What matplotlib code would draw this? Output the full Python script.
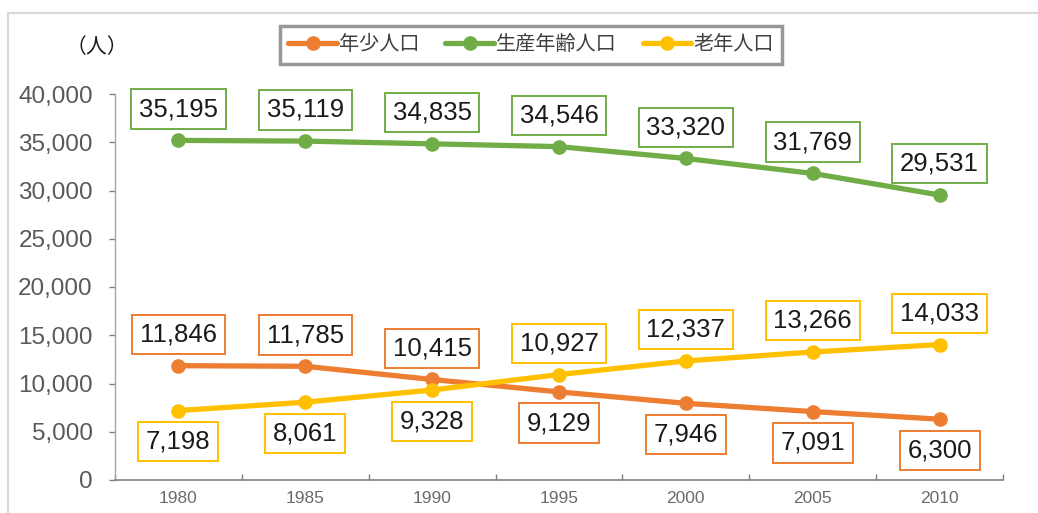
import matplotlib
matplotlib.use("Agg")
import matplotlib.pyplot as plt
from matplotlib.patches import Rectangle

years = ["1980", "1985", "1990", "1995", "2000", "2005", "2010"]
youth = [11846, 11785, 10415, 9129, 7946, 7091, 6300]
working = [35195, 35119, 34835, 34546, 33320, 31769, 29531]
elderly = [7198, 8061, 9328, 10927, 12337, 13266, 14033]
series_names = ["年少人口", "生産年齢人口", "老年人口"]
yticks = [0, 5000, 10000, 15000, 20000, 25000, 30000, 35000, 40000]
unit_label = "（人）"

colors = ["#ED7D31", "#70AD47", "#FFC000"]
# label placement: +1 above, -1 below
youth_pos = [1, 1, 1, -1, -1, -1, -1]
working_pos = [1] * 7
elderly_pos = [-1, -1, -1, 1, 1, 1, 1]

W, H = 1038, 513
fig = plt.figure(figsize=(W / 100, H / 100), dpi=100)
fig.patch.set_facecolor("white")

# outer chart frame
fig.patches.append(Rectangle((8 / W, -0.1), 1.2, (H - 13) / H + 0.1, transform=fig.transFigure,
                             fill=False, edgecolor="#D9D9D9", linewidth=1.5))

ax = fig.add_axes([115 / W, (H - 480) / H, 888 / W, 386 / H])
x = list(range(len(years)))

cjk = ["Noto Sans CJK JP", "DejaVu Sans"]
num_font = "Liberation Sans"

for vals, pos, col, name in [(youth, youth_pos, colors[0], series_names[0]),
                             (working, working_pos, colors[1], series_names[1]),
                             (elderly, elderly_pos, colors[2], series_names[2])]:
    ax.plot(x, vals, color=col, linewidth=3.8, marker="o", markersize=9.5,
            solid_capstyle="round", label=name, zorder=3)
    for xi, v, p in zip(x, vals, pos):
        ax.annotate(f"{v:,}", (xi, v), xytext=(0, 22.5 * p), textcoords="offset points",
                    ha="center", va="center", fontsize=18.5, family=num_font, color="#1a1a1a",
                    bbox=dict(boxstyle="square,pad=0.3", facecolor="white", edgecolor=col, linewidth=1.4),
                    zorder=4)

ax.set_xlim(-0.5, len(years) - 0.5)
ax.set_ylim(0, 40000)
ax.set_yticks(yticks)
ax.set_yticklabels([f"{t:,}" for t in yticks], fontsize=17.5, family=num_font, color="#595959")
ax.set_xticks(x)
ax.set_xticklabels(years, fontsize=12.5, family=num_font, color="#6b6b6b")
ax.set_xticks([i - 0.5 for i in range(len(years) + 1)], minor=True)
ax.tick_params(axis="x", which="major", length=0, pad=8)
ax.tick_params(axis="x", which="minor", direction="in", length=4, color="#808080", width=1)
ax.tick_params(axis="y", direction="out", length=4, color="#808080", width=1, pad=12)

for s in ["top", "right"]:
    ax.spines[s].set_visible(False)
ax.spines["left"].set_color("#A6A6A6")
ax.spines["bottom"].set_color("#808080")
ax.spines["left"].set_linewidth(1)
ax.spines["bottom"].set_linewidth(1.2)

leg = fig.legend(loc="center", bbox_to_anchor=(531 / W, 1 - 45 / H), ncol=3, frameon=True,
                 prop={"family": cjk, "size": 14.5}, handlelength=2.4, handletextpad=0.1,
                 columnspacing=1.3, borderpad=0.4, fancybox=False)
leg.get_frame().set_edgecolor("#7F7F7F")
leg.get_frame().set_linewidth(2.5)
for t in leg.get_texts():
    t.set_color("#404040")

fig.text(97 / W, 1 - 47 / H, unit_label, ha="center", va="center", fontsize=15,
         family=cjk, color="#1a1a1a")

fig.savefig("out.png", dpi=100)
